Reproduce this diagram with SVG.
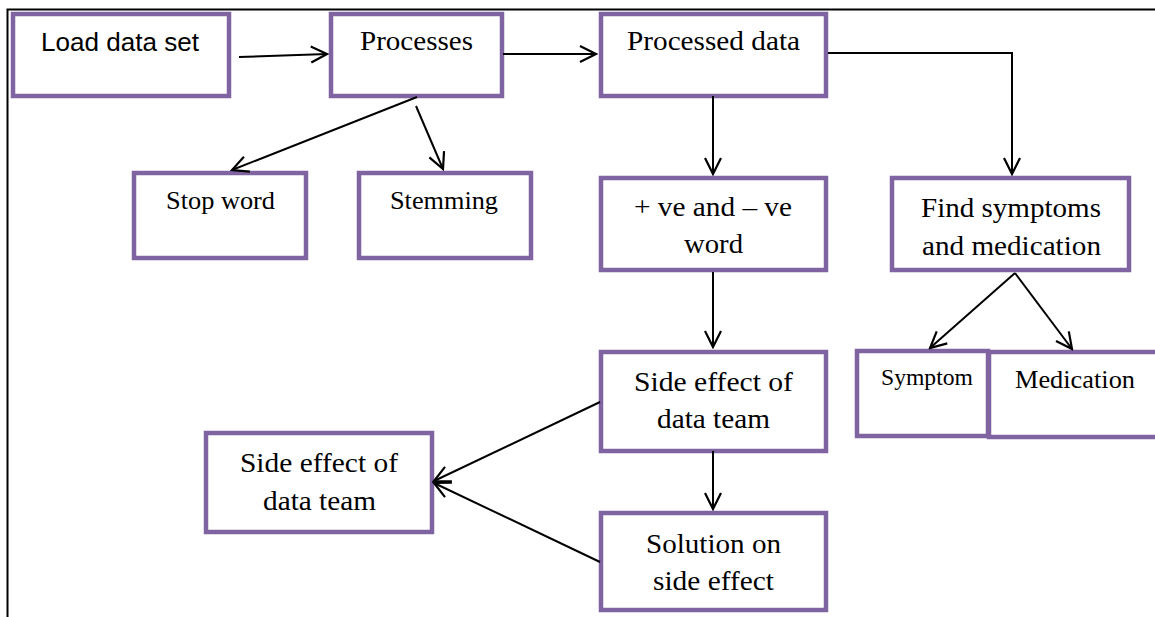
<svg xmlns="http://www.w3.org/2000/svg" width="1155" height="617" viewBox="0 0 1155 617">
<style>
.box{fill:#fff;stroke:#8064A2;stroke-width:4.5}
.t{font-family:"Liberation Serif","Times New Roman",serif;font-size:27px;fill:#000;text-anchor:middle}
.s{font-size:25px}
.c{fill:none;stroke:#000;stroke-width:2}
</style>
<defs>
<marker id="a" viewBox="0 0 20 20" refX="18" refY="10" markerWidth="20" markerHeight="20" markerUnits="userSpaceOnUse" orient="auto">
<path d="M2,2 L18,10 L2,18" fill="none" stroke="#000" stroke-width="2.2"/>
</marker>
</defs>
<g id="frame"><path class="c" d="M7.5,617 V9.5 H1155"/></g>
<g id="n1"><rect class="box" x="13" y="14" width="216" height="82"/><text x="120" y="51" textLength="158" lengthAdjust="spacingAndGlyphs" style="font-family:'Liberation Sans',Arial,sans-serif;font-size:25px;text-anchor:middle">Load data set</text></g>
<g id="n2"><rect class="box" x="331" y="14" width="171" height="82"/><text class="t" x="416.5" y="50" textLength="113" lengthAdjust="spacingAndGlyphs">Processes</text></g>
<g id="n3"><rect class="box" x="601" y="14" width="225" height="82"/><text class="t" x="713.5" y="50" textLength="173" lengthAdjust="spacingAndGlyphs">Processed data</text></g>
<g id="n4"><rect class="box" x="134" y="173" width="172" height="85"/><text class="t s" x="220.5" y="209" textLength="109" lengthAdjust="spacingAndGlyphs">Stop word</text></g>
<g id="n5"><rect class="box" x="359" y="173" width="172" height="85"/><text class="t s" x="444" y="209" textLength="108" lengthAdjust="spacingAndGlyphs">Stemming</text></g>
<g id="n6"><rect class="box" x="601" y="178" width="225" height="92"/><text class="t" x="713" y="216" textLength="158" lengthAdjust="spacingAndGlyphs">+ ve and – ve</text><text class="t" x="713.5" y="253" textLength="59" lengthAdjust="spacingAndGlyphs">word</text></g>
<g id="n7"><rect class="box" x="892" y="178" width="237" height="92"/><text class="t" x="1011" y="217" textLength="180" lengthAdjust="spacingAndGlyphs">Find symptoms</text><text class="t" x="1011.5" y="255" textLength="179" lengthAdjust="spacingAndGlyphs">and medication</text></g>
<g id="n8"><rect class="box" x="857" y="351" width="131" height="85"/><text class="t" x="927" y="385" textLength="92" lengthAdjust="spacingAndGlyphs" style="font-size:24px">Symptom</text></g>
<g id="n9"><rect class="box" x="989" y="352" width="175" height="85"/><text class="t" x="1075" y="388" textLength="120" lengthAdjust="spacingAndGlyphs" style="font-size:25px">Medication</text></g>
<g id="n10"><rect class="box" x="601" y="352" width="225" height="99"/><text class="t" x="713.5" y="391" textLength="159" lengthAdjust="spacingAndGlyphs">Side effect of</text><text class="t" x="713.5" y="428" textLength="113" lengthAdjust="spacingAndGlyphs">data team</text></g>
<g id="n11"><rect class="box" x="206" y="433" width="226" height="99"/><text class="t" x="319" y="472" textLength="158" lengthAdjust="spacingAndGlyphs">Side effect of</text><text class="t" x="319.5" y="510" textLength="113" lengthAdjust="spacingAndGlyphs">data team</text></g>
<g id="n12"><rect class="box" x="601" y="513" width="225" height="97"/><text class="t" x="713.5" y="553" textLength="135" lengthAdjust="spacingAndGlyphs">Solution on</text><text class="t" x="713.5" y="590" textLength="121" lengthAdjust="spacingAndGlyphs">side effect</text></g>
<g id="connectors">
<path class="c" marker-end="url(#a)" d="M239,57 L327,54"/>
<path class="c" marker-end="url(#a)" d="M503,54 L596,54"/>
<path class="c" marker-end="url(#a)" d="M828,53 H1012 V174"/>
<path class="c" marker-end="url(#a)" d="M417,97 L232,170"/>
<path class="c" marker-end="url(#a)" d="M416,106 L443,169"/>
<path class="c" marker-end="url(#a)" d="M713,96 V174"/>
<path class="c" marker-end="url(#a)" d="M713,272 V347"/>
<path class="c" marker-end="url(#a)" d="M1015,273 L930,348"/>
<path class="c" marker-end="url(#a)" d="M1015,273 L1072,349"/>
<path class="c" marker-end="url(#a)" d="M600,402 L434,481"/>
<path class="c" marker-end="url(#a)" d="M600,562 L434,483"/>
<path class="c" marker-end="url(#a)" d="M713,451 V509"/>
</g>
</svg>
